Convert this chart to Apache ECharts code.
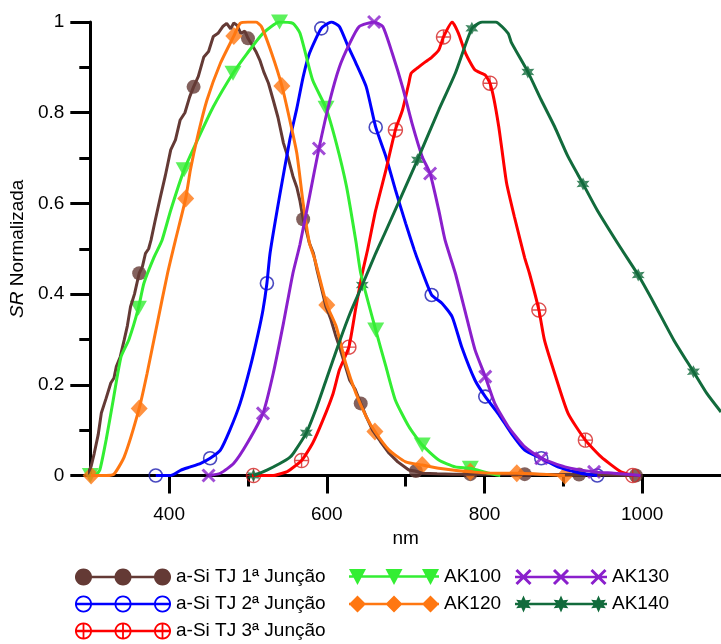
<!DOCTYPE html>
<html><head><meta charset="utf-8">
<script src="https://cdn.jsdelivr.net/npm/echarts@6/dist/echarts.min.js"></script>
<style>html,body{margin:0;padding:0;background:#fff}#c{width:721px;height:644px}</style>
</head><body><div id="c"></div>
<script>
// ---------------- DATA ----------------
const seriesNames = ['a-Si TJ 1ª Junção','a-Si TJ 2ª Junção','a-Si TJ 3ª Junção','AK100','AK120','AK130','AK140'];
const xMajorTicks = [400,600,800,1000];
const xMinorTicks = [500,700,900];
const yMajorTicks = [0,0.2,0.4,0.6,0.8,1];
const yMinorTicks = [0.1,0.3,0.5,0.7,0.9];

const asi1X = [290,297,301,305,310,314,320,326,330,333,338,343,347,351,356,362,366,370,374,377,382,389,395,402,408,414,420,426,431,437,444,450,456,462,468,473,478,482,486,491,496,500,505,510,515,520,526,532,538,545,551,557,562,566,570,574,578,583,588,593,599,605,611,616,622,629,636,643,650,658,668,679,690,704,712,721,740,760,780,800,820,851,880,920,960,992];
const asi1Y = [0,0.005,0.02,0.049,0.09,0.138,0.17,0.204,0.215,0.24,0.262,0.299,0.33,0.372,0.40,0.446,0.46,0.49,0.50,0.519,0.56,0.615,0.66,0.718,0.74,0.784,0.80,0.835,0.857,0.88,0.923,0.935,0.968,0.975,0.99,0.997,0.985,0.998,0.993,0.975,0.98,0.964,0.95,0.935,0.916,0.89,0.865,0.828,0.79,0.733,0.70,0.66,0.635,0.605,0.565,0.54,0.512,0.49,0.45,0.415,0.372,0.345,0.31,0.284,0.25,0.21,0.19,0.159,0.13,0.1,0.075,0.049,0.03,0.012,0.01,0.005,0.004,0.003,0.003,0.003,0.003,0.003,0.002,0.002,0.001,0];
const asi1MX = [289,362,431,500,570,643,713,782,851,920,992];
const asi1MY = [0,0.446,0.857,0.964,0.565,0.159,0.01,0.003,0.003,0.002,0];

const asi2X = [383,402,415,427,440,452,465,477,490,503,513,519,524,528,540,553,562,570,578,593,606,616,627,637,650,662,675,687,700,711,717,733,746,759,771,788,801,818,834,851,872,893,922,943];
const asi2Y = [0,0,0.012,0.019,0.027,0.038,0.056,0.1,0.159,0.24,0.314,0.365,0.424,0.49,0.615,0.74,0.81,0.879,0.931,0.986,1.0,0.99,0.946,0.909,0.857,0.768,0.703,0.63,0.556,0.497,0.468,0.398,0.38,0.35,0.284,0.21,0.174,0.135,0.093,0.056,0.038,0.019,0.005,0];
const asi2MX = [383,452,524,593,662,733,801,872,943];
const asi2MY = [0,0.038,0.424,0.986,0.768,0.398,0.174,0.038,0];

const asi3X = [505,532,549,553,568,582,595,608,616,628,637,645,652,662,675,687,696,704,707,716,725,733,742,748,759,767,776,788,801,807,812,818,822,828,838,851,857,869,876,889,906,928,948,973,988];
const asi3Y = [0,0,0.008,0.012,0.033,0.071,0.122,0.181,0.233,0.283,0.372,0.446,0.5,0.585,0.674,0.762,0.806,0.865,0.887,0.9,0.912,0.922,0.938,0.967,1.0,0.975,0.931,0.894,0.883,0.865,0.83,0.77,0.72,0.645,0.57,0.48,0.446,0.365,0.299,0.225,0.137,0.078,0.041,0.008,0];
const asi3MX = [507,568,628,687,748,807,869,928,988];
const asi3MY = [0,0.033,0.283,0.762,0.967,0.865,0.365,0.078,0];

const ak100X = [300,306,312,320,329,339,349,361,368,381,391,402,419,436,456,481,499,519,540,557,566,582,599,612,625,637,643,662,675,687,704,721,742,763,782,805,820];
const ak100Y = [0,0,0.012,0.078,0.166,0.262,0.30,0.369,0.424,0.482,0.519,0.585,0.674,0.74,0.813,0.887,0.931,0.975,1.0,0.997,0.975,0.872,0.81,0.733,0.637,0.515,0.446,0.321,0.24,0.166,0.108,0.067,0.034,0.019,0.016,0.005,0];
const ak100MX = [300,361,419,481,540,599,662,721,782];
const ak100MY = [0,0.369,0.674,0.887,1.0,0.81,0.321,0.067,0.016];

const ak120X = [300,310,320,330,343,362,372,385,398,408,421,427,436,448,465,482,490,500,510,517,530,543,553,562,570,578,585,600,612,624,637,650,661,679,700,721,742,782,815,841,902];
const ak120Y = [0,0,0,0.003,0.041,0.148,0.225,0.336,0.446,0.519,0.611,0.674,0.747,0.828,0.909,0.969,0.997,1.0,1.0,0.99,0.931,0.859,0.784,0.71,0.6,0.512,0.475,0.376,0.328,0.247,0.181,0.13,0.097,0.056,0.03,0.023,0.016,0.008,0.005,0.005,0];
const ak120MX = [301,362,421,482,543,600,661,721,782,841,902];
const ak120MY = [0,0.148,0.611,0.969,0.859,0.376,0.097,0.023,0.008,0.005,0];

const ak130X = [450,465,482,499,519,532,545,557,566,578,590,604,616,629,641,660,671,683,696,708,721,731,742,750,763,776,788,801,813,830,850,872,902,939,964,998];
const ak130Y = [0,0.005,0.027,0.071,0.137,0.225,0.336,0.446,0.51,0.615,0.721,0.828,0.901,0.953,0.99,1.0,0.99,0.931,0.857,0.777,0.703,0.666,0.585,0.519,0.446,0.358,0.277,0.218,0.159,0.108,0.065,0.038,0.019,0.008,0.005,0];
const ak130MX = [450,519,590,660,731,801,872,939];
const ak130MY = [0,0.137,0.721,1.0,0.666,0.218,0.038,0.008];

const ak140X = [507,524,541,553,558,574,587,599,616,630,645,662,673,715,742,763,784,797,814,830,834,855,872,889,906,925,943,973,995,1015,1040,1065,1082,1100];
const ak140Y = [0,0.012,0.027,0.04,0.05,0.094,0.15,0.21,0.295,0.36,0.42,0.49,0.532,0.696,0.806,0.887,0.986,1.0,1.0,0.975,0.955,0.89,0.828,0.769,0.703,0.643,0.585,0.501,0.442,0.38,0.299,0.229,0.181,0.14];
const ak140MX = [507,574,645,715,784,855,925,995,1065];
const ak140MY = [0,0.094,0.42,0.696,0.986,0.89,0.643,0.442,0.229];

// ---------------- STYLE ----------------
const FONT = '"Liberation Sans", Arial, sans-serif';
const C = {
  brown:'#643a35', blue:'#0000ff', blueM:'#1c1cb0', red:'#ff0000', redM:'#d42020',
  green:'#33ee33', orange:'#ff7711', purple:'#8a1fcc', dgreen:'#126b3c'
};

function area(p){let s=0;for(let i=0;i<p.length;i++){const a=p[i],b=p[(i+1)%p.length];s+=a[0]*b[1]-b[0]*a[1];}return s;}
function poly(p,cw){ if((area(p)>0)!==cw) p=p.slice().reverse(); return 'M'+p.map(q=>q[0].toFixed(2)+' '+q[1].toFixed(2)).join('L')+'Z'; }
function circ(cx,cy,r,n){const p=[];for(let k=0;k<n;k++){const a=2*Math.PI*k/n;p.push([cx+r*Math.cos(a),cy+r*Math.sin(a)]);}return p;}
function star(cx,cy,ro,ri){const p=[];for(let k=0;k<12;k++){const a=(-90+k*30)*Math.PI/180;const r=k%2?ri:ro;p.push([cx+r*Math.cos(a),cy+r*Math.sin(a)]);}return p;}
function bar(x1,y1,x2,y2,t){const dx=x2-x1,dy=y2-y1,L=Math.hypot(dx,dy),nx=-dy/L*t/2,ny=dx/L*t/2;return [[x1+nx,y1+ny],[x2+nx,y2+ny],[x2-nx,y2-ny],[x1-nx,y1-ny]];}

function legendIcon(kind,W,H,lw){
  const r=H/2, cy=H/2; let d=poly([[0,cy-lw/2],[W,cy-lw/2],[W,cy+lw/2],[0,cy+lw/2]],true);
  [r,W/2,W-r].forEach(cx=>{
    if(kind==='dot') d+=poly(circ(cx,cy,r,28),true);
    if(kind==='ring'||kind==='ringplus'){d+=poly(circ(cx,cy,r,28),true)+poly(circ(cx,cy,r-1.8,28),false);}
    if(kind==='ringplus') d+=poly([[cx-0.9,1],[cx+0.9,1],[cx+0.9,H-1],[cx-0.9,H-1]],true);
    if(kind==='tri') d+=poly([[cx-r,1],[cx+r,1],[cx,H]],true);
    if(kind==='dia') d+=poly([[cx,0],[cx+r,cy],[cx,H],[cx-r,cy]],true);
    if(kind==='x'){const a=r-1.5; d+=poly(bar(cx-a,cy-a,cx+a,cy+a,3),true)+poly(bar(cx+a,cy-a,cx-a,cy+a,3),true);}
    if(kind==='star') d+=poly(star(cx,cy,r,r*0.5),true);
  });
  return 'path://'+d;
}

const plusCircle = 'path://'+poly(circ(7,7,6,28),true)+'M7 1L7 13M1 7L13 7';
const xMark = 'path://M0 0L12 12M12 0L0 12';
const starMark = 'path://'+poly(star(10,10,10,5),true);

function pts(xs,ys){return xs.map((x,i)=>[x,ys[i]]);}
function lineS(name,xs,ys,color,smooth){
  return {type:'line',name,data:pts(xs,ys),symbol:'none',showSymbol:false,smooth:smooth?0.18:false,
    lineStyle:{color,width:3},itemStyle:{color},emphasis:{disabled:true},silent:true};
}
function markS(name,xs,ys,symbol,size,itemStyle,rot){
  return {type:'scatter',name,data:pts(xs,ys),symbol,symbolSize:size,symbolRotate:rot||0,itemStyle,emphasis:{disabled:true},silent:true};
}

const series = [
  lineS(seriesNames[0],asi1X,asi1Y,C.brown,false),
  markS(seriesNames[0],asi1MX,asi1MY,'circle',14,{color:C.brown}),
  lineS(seriesNames[1],asi2X,asi2Y,C.blue,true),
  markS(seriesNames[1],asi2MX,asi2MY,'circle',13,{color:'rgba(0,0,0,0)',borderColor:C.blueM,borderWidth:1.6}),
  lineS(seriesNames[2],asi3X,asi3Y,C.red,true),
  markS(seriesNames[2],asi3MX,asi3MY,plusCircle,14,{color:'rgba(0,0,0,0)',borderColor:C.redM,borderWidth:1.4}),
  lineS(seriesNames[3],ak100X,ak100Y,C.green,true),
  markS(seriesNames[3],ak100MX,ak100MY,'triangle',[17,15],{color:C.green},180),
  lineS(seriesNames[4],ak120X,ak120Y,C.orange,true),
  markS(seriesNames[4],ak120MX,ak120MY,'diamond',[17,18],{color:C.orange}),
  lineS(seriesNames[5],ak130X,ak130Y,C.purple,true),
  markS(seriesNames[5],ak130MX,ak130MY,xMark,12,{color:C.purple,borderColor:C.purple,borderWidth:3}),
  lineS(seriesNames[6],ak140X,ak140Y,C.dgreen,true),
  markS(seriesNames[6],ak140MX,ak140MY,starMark,13,{color:C.dgreen})
];

const txt = {fontSize:19,color:'#000',fontFamily:FONT,lineHeight:20};
function legend(left,top,w,items){
  return {orient:'vertical',left,top,itemWidth:w,itemHeight:17,itemGap:7,selectedMode:false,
    textStyle:txt,padding:0,
    data:items.map(it=>({name:it[0],icon:legendIcon(it[1],w,17,it[3]||2.6),itemStyle:{color:it[2],borderWidth:0}}))};
}

const option = {
  animation:false,
  backgroundColor:'#fff',
  grid:{left:89,top:22,width:635,height:453.5,containLabel:false},
  xAxis:[
    {type:'value',min:300,max:1100,position:'bottom',axisLine:{show:true,onZero:false,lineStyle:{color:'#000',width:3}},
     axisTick:{show:true,length:18,customValues:xMajorTicks,lineStyle:{color:'#000',width:3}},
     axisLabel:{customValues:xMajorTicks,fontSize:19,color:'#000',fontFamily:FONT,margin:30,formatter:v=>String(v)},
     splitLine:{show:false},name:'nm',nameLocation:'middle',nameGap:54,
     nameTextStyle:{fontSize:19,color:'#000',fontFamily:FONT}},
    {type:'value',min:300,max:1100,position:'bottom',axisLine:{show:false,onZero:false},
     axisTick:{show:true,length:11,customValues:xMinorTicks,lineStyle:{color:'#000',width:3}},
     axisLabel:{show:false},splitLine:{show:false}}
  ],
  yAxis:[
    {type:'value',min:0,max:1,position:'left',axisLine:{show:true,onZero:false,lineStyle:{color:'#000',width:3}},
     axisTick:{show:true,length:20,customValues:yMajorTicks,lineStyle:{color:'#000',width:3}},
     axisLabel:{customValues:yMajorTicks,fontSize:19,color:'#000',fontFamily:FONT,margin:26,formatter:v=>String(v)},
     splitLine:{show:false},name:'{i|SR} Normalizada',nameLocation:'middle',nameGap:62,
     nameTextStyle:{fontSize:19,color:'#000',fontFamily:FONT,rich:{i:{fontStyle:'italic',fontSize:19,fontFamily:FONT}}}},
    {type:'value',min:0,max:1,position:'left',axisLine:{show:false,onZero:false},
     axisTick:{show:true,length:11,customValues:yMinorTicks,lineStyle:{color:'#000',width:3}},
     axisLabel:{show:false},splitLine:{show:false}}
  ],
  legend:[
    legend(75,567,96,[[seriesNames[0],'dot',C.brown],[seriesNames[1],'ring',C.blue],[seriesNames[2],'ringplus',C.red]]),
    legend(349,567,90,[[seriesNames[3],'tri',C.green],[seriesNames[4],'dia',C.orange]]),
    legend(515,567,92,[[seriesNames[5],'x',C.purple],[seriesNames[6],'star',C.dgreen]])
  ],
  series
};
const chart = echarts.init(document.getElementById('c'),null,{renderer:'canvas'});
chart.setOption(option);
</script>
</body></html>
